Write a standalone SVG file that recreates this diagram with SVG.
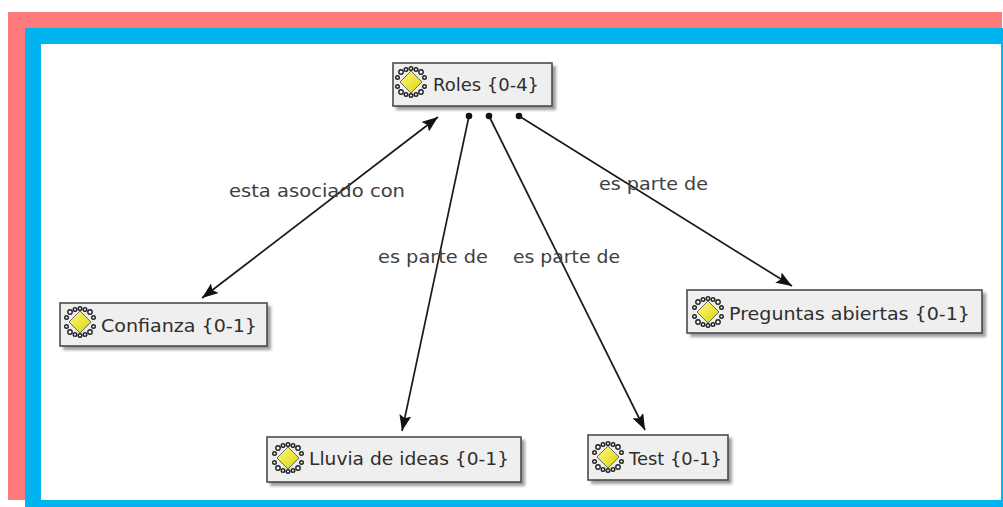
<svg xmlns="http://www.w3.org/2000/svg" xmlns:xlink="http://www.w3.org/1999/xlink" width="1003" height="507" viewBox="0 0 1003 507">
<style>
.box{fill:#efefef;stroke:#4a4a4a;stroke-width:1.6}
.shadow{fill:#7a7a7a;opacity:0.75}
.ntext{font-family:"DejaVu Sans","Liberation Sans",sans-serif;font-size:17.5px;fill:#2e2e2e}
.ltext{font-family:"DejaVu Sans","Liberation Sans",sans-serif;font-size:17px;fill:#404040}
.conn{stroke:#1a1a1a;stroke-width:1.7;fill:none}
</style>
<defs>
<marker id="arrow" viewBox="0 0 16 12" refX="16" refY="6" markerWidth="16" markerHeight="12" markerUnits="userSpaceOnUse" orient="auto-start-reverse">
<path d="M0,0 L16,6 L0,12 L3,6 Z" fill="#111"/>
</marker>
<marker id="dot" viewBox="0 0 8 8" refX="4" refY="4" markerWidth="8" markerHeight="8" markerUnits="userSpaceOnUse">
<circle cx="4" cy="4" r="3.3" fill="#111"/>
</marker>
<linearGradient id="yel" x1="0" y1="0" x2="1" y2="1">
<stop offset="0" stop-color="#fdfa8a"/>
<stop offset="1" stop-color="#dcd200"/>
</linearGradient>
<filter id="blur" x="-10%" y="-10%" width="130%" height="140%"><feGaussianBlur stdDeviation="1.5"/></filter>
<g id="icon">
<g fill="#f4f4f4" stroke="#222" stroke-width="1.4">
<circle cx="-10" cy="-10" r="2.2"/><circle cx="-5" cy="-12.5" r="1.8"/><circle cx="0" cy="-13.5" r="1.8"/><circle cx="5" cy="-12.5" r="1.8"/><circle cx="10" cy="-10" r="2.2"/>
<circle cx="-10" cy="10" r="2.2"/><circle cx="-5" cy="12.5" r="1.8"/><circle cx="0" cy="13.5" r="1.8"/><circle cx="5" cy="12.5" r="1.8"/><circle cx="10" cy="10" r="2.2"/>
<circle cx="-13.5" cy="-4.5" r="1.8"/><circle cx="-13.5" cy="4.5" r="1.8"/><circle cx="13.5" cy="-4.5" r="1.8"/><circle cx="13.5" cy="4.5" r="1.8"/>
</g>
<path d="M0,-11 L11,0 L0,11 L-11,0 Z" fill="url(#yel)" stroke="#666" stroke-width="1"/>
</g>
</defs>

<rect x="8" y="12" width="994" height="488" fill="#ff7b7b"/>
<rect x="25" y="28" width="980" height="482" fill="#00b4f0"/>
<rect x="41" y="44" width="960" height="456" fill="#ffffff"/>

<g id="connectors">
<line class="conn" x1="202" y1="298" x2="438" y2="117" marker-start="url(#arrow)" marker-end="url(#arrow)"/>
<line class="conn" x1="469" y1="116" x2="402" y2="431" marker-start="url(#dot)" marker-end="url(#arrow)"/>
<line class="conn" x1="489" y1="116" x2="645" y2="430" marker-start="url(#dot)" marker-end="url(#arrow)"/>
<line class="conn" x1="519" y1="116" x2="792" y2="286" marker-start="url(#dot)" marker-end="url(#arrow)"/>
<text class="ltext" x="229" y="197" textLength="176" lengthAdjust="spacingAndGlyphs">esta asociado con</text>
<text class="ltext" x="378" y="263" textLength="110" lengthAdjust="spacingAndGlyphs">es parte de</text>
<text class="ltext" x="513" y="263" textLength="107" lengthAdjust="spacingAndGlyphs">es parte de</text>
<text class="ltext" x="599" y="190" textLength="109" lengthAdjust="spacingAndGlyphs">es parte de</text>
</g>

<g id="node-roles">
<rect class="shadow" x="396" y="66" width="160" height="44" filter="url(#blur)"/>
<rect class="box" x="393" y="63" width="159" height="43"/>
<use xlink:href="#icon" href="#icon" x="411" y="82"/>
<text class="ntext" x="433" y="91" textLength="106" lengthAdjust="spacingAndGlyphs">Roles {0-4}</text>
</g>

<g id="node-confianza">
<rect class="shadow" x="63" y="306" width="208" height="44" filter="url(#blur)"/>
<rect class="box" x="60" y="303" width="207" height="43"/>
<use xlink:href="#icon" href="#icon" x="80" y="322"/>
<text class="ntext" x="101" y="332" textLength="156" lengthAdjust="spacingAndGlyphs">Confianza {0-1}</text>
</g>

<g id="node-preguntas">
<rect class="shadow" x="690" y="293" width="296" height="44" filter="url(#blur)"/>
<rect class="box" x="687" y="290" width="295" height="43"/>
<use xlink:href="#icon" href="#icon" x="708" y="312"/>
<text class="ntext" x="729" y="320" textLength="241" lengthAdjust="spacingAndGlyphs">Preguntas abiertas {0-1}</text>
</g>

<g id="node-lluvia">
<rect class="shadow" x="270" y="440" width="255" height="46" filter="url(#blur)"/>
<rect class="box" x="267" y="437" width="254" height="45"/>
<use xlink:href="#icon" href="#icon" x="288" y="458"/>
<text class="ntext" x="309" y="465" textLength="200" lengthAdjust="spacingAndGlyphs">Lluvia de ideas {0-1}</text>
</g>

<g id="node-test">
<rect class="shadow" x="591" y="438" width="141" height="46" filter="url(#blur)"/>
<rect class="box" x="588" y="435" width="140" height="45"/>
<use xlink:href="#icon" href="#icon" x="608" y="457"/>
<text class="ntext" x="629" y="465" textLength="93" lengthAdjust="spacingAndGlyphs">Test {0-1}</text>
</g>
</svg>
